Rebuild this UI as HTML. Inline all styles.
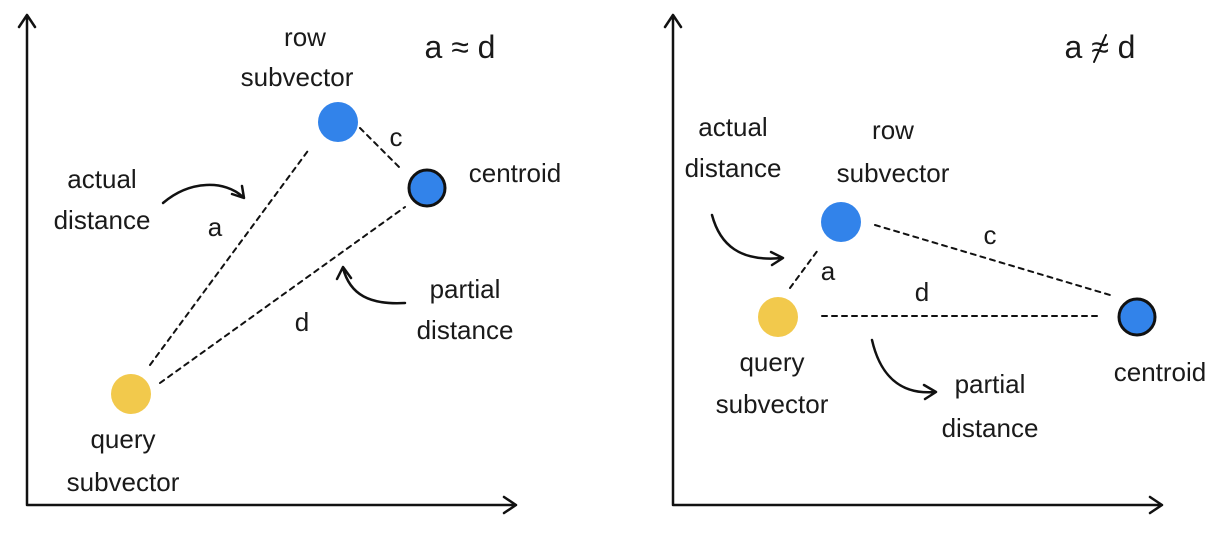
<!DOCTYPE html>
<html><head><style>
body{margin:0;background:#fff}
svg text{font-family:"Liberation Sans",sans-serif;font-size:26px;fill:#1a1a1a;text-anchor:middle}
</style></head><body>
<svg width="1226" height="540" xmlns="http://www.w3.org/2000/svg">
<g stroke="#111" stroke-width="2.5" fill="none" stroke-linecap="round" stroke-linejoin="round">
<path d="M27 505V15M19 27L27 15L35 27M27 505H516M504 497L516 505L504 513"/>
<path d="M673 505V15M665 27L673 15L681 27M673 505H1162M1150 497L1162 505L1150 513"/>
<g stroke-dasharray="5 5" stroke-width="2">
<path d="M150 365L310 148"/><path d="M160 383L405 207"/><path d="M360 128L400 168"/>
<path d="M790 288L818 250"/><path d="M822 316H1100"/><path d="M875 225L1110 295"/>
</g>
<path d="M163 203C190 180 225 180 243 197M232 194L244 198L242 186"/>
<path d="M405 303C370 305 350 295 343 268M337 279L343 267L351 278"/>
<path d="M712 215C720 245 740 262 782 258M771 252L783 258L772 265"/>
<path d="M872 340C880 375 900 395 935 392M924 385L936 392L925 399"/>
<path d="M1106 35L1094 62" stroke-width="2"/>
</g>
<circle cx="338" cy="122" r="20" fill="#3283ea"/>
<circle cx="427" cy="188" r="18" fill="#3283ea" stroke="#111" stroke-width="3"/>
<circle cx="131" cy="394" r="20" fill="#f2c94c"/>
<circle cx="841" cy="222" r="20" fill="#3283ea"/>
<circle cx="1137" cy="317" r="18" fill="#3283ea" stroke="#111" stroke-width="3"/>
<circle cx="778" cy="317" r="20" fill="#f2c94c"/>
<text x="305" y="46">row</text><text x="297" y="86">subvector</text>
<text x="460" y="58" style="font-size:32px">a ≈ d</text>
<text x="396" y="146">c</text><text x="515" y="182">centroid</text>
<text x="102" y="188">actual</text><text x="102" y="229">distance</text>
<text x="215" y="236">a</text>
<text x="465" y="298">partial</text><text x="465" y="339">distance</text>
<text x="302" y="331">d</text>
<text x="123" y="448">query</text><text x="123" y="491">subvector</text>
<text x="1100" y="58" style="font-size:32px">a ≈ d</text>
<text x="733" y="136">actual</text><text x="733" y="177">distance</text>
<text x="893" y="139">row</text><text x="893" y="182">subvector</text>
<text x="990" y="244">c</text><text x="1160" y="381">centroid</text>
<text x="828" y="280">a</text><text x="922" y="301">d</text>
<text x="772" y="371">query</text><text x="772" y="413">subvector</text>
<text x="990" y="393">partial</text><text x="990" y="437">distance</text>
</svg>
</body></html>
